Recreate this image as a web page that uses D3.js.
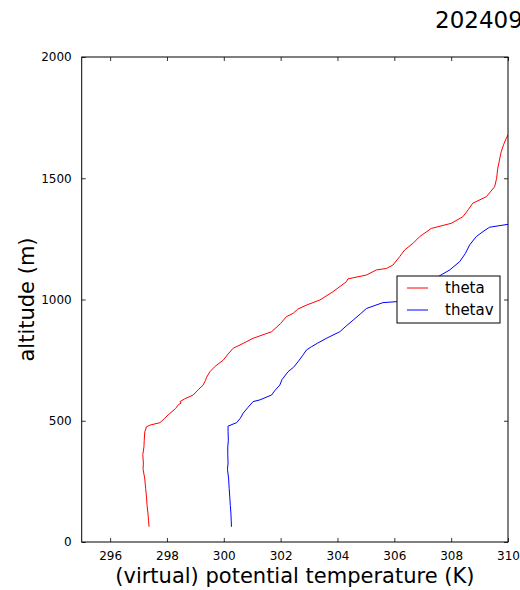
<!DOCTYPE html>
<html><head><meta charset="utf-8">
<script src="https://cdn.jsdelivr.net/npm/d3@7"></script>
<style>body{margin:0;background:#fff}svg{display:block}text{font-family:"DejaVu Sans",sans-serif;fill:#000}</style>
</head><body><svg id="c" width="520" height="590"></svg>
<script>
const titleText = "20240901";
const xLabel = "(virtual) potential temperature (K)";
const yLabel = "altitude (m)";
const xTicks = [296, 298, 300, 302, 304, 306, 308, 310];
const yTicks = [0, 500, 1000, 1500, 2000];
const seriesNames = ["theta", "thetav"];
const seriesColors = ["#ff0000", "#0000ff"];
const thetaAlt = [63,90,120,150,186,220,260,300,326,360,392,420,454,475,482,492,510,524,550,566,573,579,590,606,630,647,665,680,702,725,750,775,799,820,840,867,901,929,943,960,977,998,1032,1073,1085,1101,1122,1128,1142,1177,1204,1232,1259,1293,1314,1341,1370,1397,1424,1465,1500,1541,1575,1609,1640,1665,1700];
const thetaVal = [297.37,297.35,297.33,297.3,297.28,297.25,297.22,297.16,297.17,297.15,297.19,297.2,297.22,297.28,297.4,297.75,297.92,298.04,298.3,298.4,298.5,298.46,298.62,298.92,299.12,299.27,299.35,299.4,299.51,299.7,299.98,300.15,300.33,300.7,301.03,301.68,302.0,302.2,302.44,302.6,302.91,303.38,303.84,304.31,304.37,305.02,305.37,305.72,305.95,306.19,306.36,306.66,306.89,307.3,308.0,308.41,308.6,308.76,309.24,309.53,309.6,309.64,309.7,309.76,309.85,309.94,310.1];
const thetavAlt = [63,90,120,150,186,220,260,300,326,360,392,420,454,478,492,510,531,555,579,586,606,625,647,670,702,720,743,770,792,805,820,840,867,890,915,940,963,987,991,1040,1094,1122,1156,1190,1225,1259,1280,1298,1310,1320];
const thetavVal = [300.27,300.26,300.25,300.23,300.21,300.19,300.17,300.13,300.15,300.14,300.14,300.16,300.15,300.15,300.45,300.58,300.68,300.85,301.03,301.27,301.68,301.8,301.97,302.05,302.26,302.45,302.61,302.78,302.91,303.08,303.3,303.61,304.08,304.3,304.55,304.8,305.02,305.6,306.07,306.8,307.54,307.95,308.3,308.5,308.65,308.88,309.12,309.35,310.0,310.4];

const svg = d3.select("#c");
const L = 81.7, R = 508, T = 57, B = 542;
const x = d3.scaleLinear().domain([295, 310]).range([L, R]);
const y = d3.scaleLinear().domain([0, 2000]).range([B, T]);

svg.append("defs").append("clipPath").attr("id","clip").append("rect")
  .attr("x", L).attr("y", T).attr("width", R - L).attr("height", B - T);

const series = [
  {name: seriesNames[0], color: seriesColors[0], data: thetaAlt.map((a,i)=>[thetaVal[i], a])},
  {name: seriesNames[1], color: seriesColors[1], data: thetavAlt.map((a,i)=>[thetavVal[i], a])}
];
const line = d3.line().x(d=>x(d[0])).y(d=>y(d[1]));
const g = svg.append("g").attr("clip-path","url(#clip)");
series.forEach(s => g.append("path").attr("d", line(s.data)).attr("fill","none")
  .attr("stroke", s.color).attr("stroke-width", 1).attr("stroke-linejoin","round"));

// axes (inward ticks on all sides)
const ax = svg.append("g");
ax.append("g").attr("transform",`translate(0,${B})`)
  .call(d3.axisBottom(x).tickValues(xTicks).tickSizeInner(-4).tickSizeOuter(0).tickPadding(9).tickFormat(d3.format("d")));
ax.append("g").attr("transform",`translate(0,${T})`)
  .call(d3.axisTop(x).tickValues(xTicks).tickSizeInner(-4).tickSizeOuter(0).tickFormat(""));
ax.append("g").attr("transform",`translate(${L},0)`)
  .call(d3.axisLeft(y).tickValues(yTicks).tickSizeInner(-4).tickSizeOuter(0).tickPadding(10).tickFormat(d3.format("d")));
ax.append("g").attr("transform",`translate(${R},0)`)
  .call(d3.axisRight(y).tickValues(yTicks).tickSizeInner(-4).tickSizeOuter(0).tickFormat(""));
ax.selectAll(".domain").remove();
ax.selectAll("line").attr("stroke","#000").attr("stroke-width",0.8);
ax.selectAll("text").attr("font-size", 12).attr("font-family","DejaVu Sans");
svg.append("rect").attr("x",L).attr("y",T).attr("width",R-L).attr("height",B-T)
  .attr("fill","none").attr("stroke","#000").attr("stroke-width",1);

// legend
const lg = svg.append("g");
lg.append("rect").attr("x",397).attr("y",276).attr("width",103).attr("height",47)
  .attr("fill","#fff").attr("stroke","#000").attr("stroke-width",1);
series.forEach((s,i)=>{
  const yy = 288 + i*22;
  lg.append("line").attr("x1",407).attr("x2",428).attr("y1",yy).attr("y2",yy).attr("stroke",s.color).attr("stroke-width",1);
  lg.append("text").attr("x",445).attr("y",yy+5).attr("font-size",15).text(s.name);
});

// labels
svg.append("text").attr("x",(L+R)/2).attr("y",583).attr("text-anchor","middle").attr("font-size",21).text(xLabel);
svg.append("text").attr("transform",`translate(34,${(T+B)/2}) rotate(-90)`).attr("text-anchor","middle").attr("font-size",21).text(yLabel);
svg.append("text").attr("x",435).attr("y",28).attr("font-size",23).text(titleText);
</script></body></html>
